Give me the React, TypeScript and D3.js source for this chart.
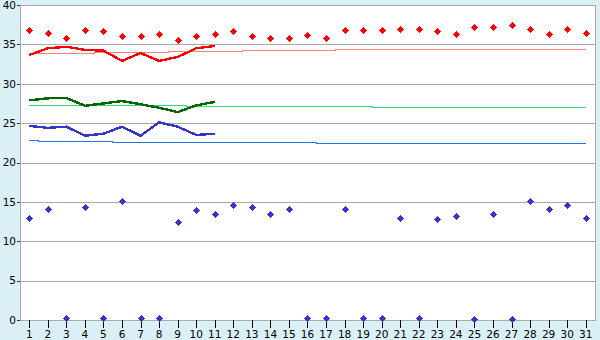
import React from "react";
import * as d3 from "d3";

const days = [1,2,3,4,5,6,7,8,9,10,11,12,13,14,15,16,17,18,19,20,21,22,23,24,25,26,27,28,29,30,31];
const yTicks = [0,5,10,15,20,25,30,35,40];

const redPoints = [36.8,36.5,35.8,36.8,36.7,36.1,36.1,36.3,35.5,36.1,36.3,36.7,36.0,35.8,35.8,36.2,35.8,36.8,36.8,36.8,37.0,36.9,36.7,36.3,37.2,37.2,37.5,37.0,36.3,37.0,36.4];
const bluePoints = [13.0,14.1,0.3,14.4,0.3,15.1,0.3,0.3,12.4,14.0,13.5,14.6,14.3,13.5,14.1,0.3,0.3,14.1,0.3,0.3,13.0,0.3,12.8,13.2,0.15,13.4,0.15,15.1,14.1,14.6,13.0];

const redLine = [33.65,34.5,34.7,34.3,34.2,32.9,33.9,32.9,33.4,34.5,34.8];
const greenLine = [27.9,28.15,28.2,27.2,27.5,27.8,27.4,26.95,26.4,27.25,27.7];
const blueLine = [24.65,24.4,24.55,23.4,23.65,24.55,23.4,25.1,24.55,23.5,23.65];

const redNormal = [33.82,33.82,33.82,33.82,34.0,34.0,34.0,34.0,34.12,34.12,34.12,34.12,34.25,34.25,34.25,34.25,34.25,34.37,34.37,34.37,34.37,34.37,34.37,34.37,34.37,34.37,34.37,34.37,34.37,34.37,34.37];
const greenNormal = [27.26,27.26,27.26,27.26,27.26,27.26,27.26,27.26,27.26,27.14,27.14,27.14,27.14,27.14,27.14,27.14,27.14,27.14,27.14,27.01,27.01,27.01,27.01,27.01,27.01,27.01,27.01,27.01,27.01,27.01,27.01];
const blueNormal = [22.82,22.69,22.69,22.69,22.69,22.57,22.57,22.57,22.57,22.57,22.57,22.57,22.57,22.57,22.57,22.57,22.44,22.44,22.44,22.44,22.44,22.44,22.44,22.44,22.44,22.44,22.44,22.44,22.44,22.44,22.44];

const W = 600, H = 340;
const L = 20, R = 595, T = 5, B = 320;

const marker = "M-0.5,-3.5h1v1h1v1h1v1h1v1h-1v1h-1v1h-1v1h-1v-1h-1v-1h-1v-1h-1v-1h1v-1h1v-1h1z";

export default function App() {
  const x = d3.scaleBand<number>().domain(days).range([L, R]).padding(0);
  const cx = (d: number) => (x(d) as number) + x.bandwidth() / 2;
  const y = d3.scaleLinear().domain([0, 40]).range([B, T]);

  const lineGen = (vals: number[], curve: any = d3.curveLinear) =>
    d3.line<number>().x((_, i) => cx(days[i])).y((v) => y(v)).curve(curve)(vals) || "";

  const font = "'DejaVu Sans', Verdana, sans-serif";

  return (
    <svg width={W} height={H} style={{ position: "absolute", left: 0, top: 0 }} fontFamily={font}>
      <rect x={0} y={0} width={W} height={H} fill="#dbeff6" />
      <rect x={L} y={T} width={R - L} height={B - T} fill="#ffffff" />
      {yTicks.map((t) => (
        <line key={"g" + t} x1={L} x2={R} y1={Math.round(y(t)) + 0.5} y2={Math.round(y(t)) + 0.5} stroke="#aaaaaa" strokeWidth={1} shapeRendering="crispEdges" />
      ))}
      <line x1={L + 0.5} x2={L + 0.5} y1={T} y2={B + 1} stroke="#aaaaaa" shapeRendering="crispEdges" />
      <line x1={R + 0.5} x2={R + 0.5} y1={T} y2={B + 1} stroke="#aaaaaa" shapeRendering="crispEdges" />
      {yTicks.map((t) => (
        <g key={"yt" + t}>
          <line x1={L - 3} x2={L} y1={Math.round(y(t)) + 0.5} y2={Math.round(y(t)) + 0.5} stroke="#333" shapeRendering="crispEdges" />
          <text x={16} y={y(t)} dy="0.36em" textAnchor="end" fontSize={10.5} fill="#000">{t}</text>
        </g>
      ))}
      {days.map((d) => (
        <g key={"xt" + d}>
          <line x1={Math.round(cx(d)) + 0.5} x2={Math.round(cx(d)) + 0.5} y1={B} y2={B + 8} stroke="#000" shapeRendering="crispEdges" />
          <text x={cx(d)} y={338} textAnchor="middle" fontSize={10.5} fill="#000">{d}</text>
        </g>
      ))}

      <path d={lineGen(redNormal, d3.curveStep)} fill="none" stroke="#ff8080" strokeWidth={1} shapeRendering="crispEdges" />
      <path d={lineGen(greenNormal, d3.curveStep)} fill="none" stroke="#28e07a" strokeWidth={1} shapeRendering="crispEdges" />
      <path d={lineGen(blueNormal, d3.curveStep)} fill="none" stroke="#1e78e6" strokeWidth={1} shapeRendering="crispEdges" />

      <path d={lineGen(redLine)} fill="none" stroke="#ff0000" strokeWidth={2.4} strokeLinejoin="round" shapeRendering="crispEdges" />
      <path d={lineGen(greenLine)} fill="none" stroke="#006600" strokeWidth={2.4} strokeLinejoin="round" shapeRendering="crispEdges" />
      <path d={lineGen(blueLine)} fill="none" stroke="#3535cc" strokeWidth={2.4} strokeLinejoin="round" shapeRendering="crispEdges" />

      {redPoints.map((v, i) => (
        <path key={"r" + i} d={marker} transform={`translate(${Math.round(cx(days[i])) + 0.5},${Math.round(y(v)) + 0.5})`} fill="#ff0000" shapeRendering="crispEdges" />
      ))}
      {bluePoints.map((v, i) => (
        <path key={"b" + i} d={marker} transform={`translate(${Math.round(cx(days[i])) + 0.5},${Math.round(y(v)) + 0.5})`} fill="#3535cc" shapeRendering="crispEdges" />
      ))}
    </svg>
  );
}
